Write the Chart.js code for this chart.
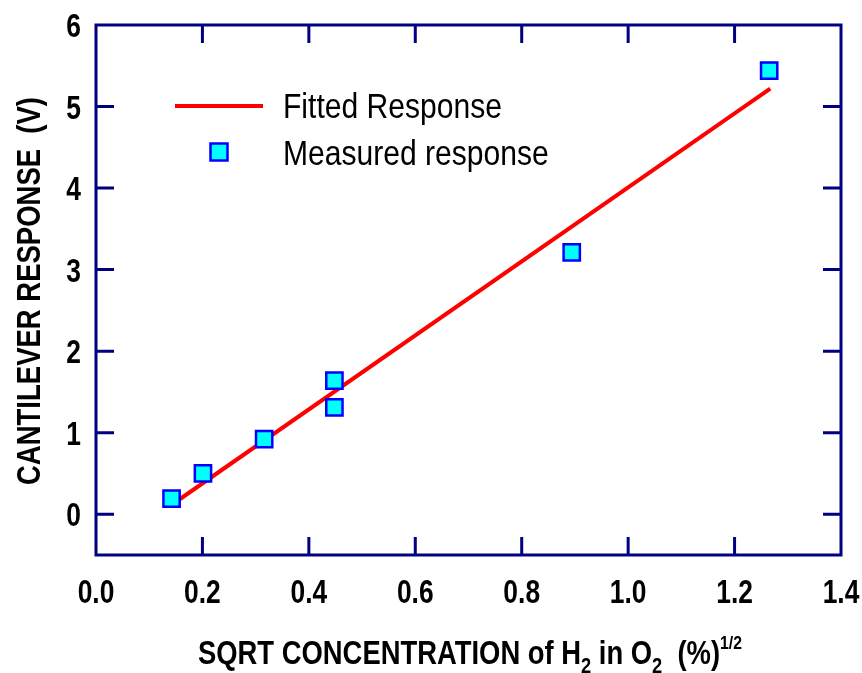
<!DOCTYPE html>
<html>
<head>
<meta charset="utf-8">
<script src="https://cdn.jsdelivr.net/npm/chart.js@4.4.1/dist/chart.umd.min.js"></script>
<style>
  html, body { margin: 0; padding: 0; background: #ffffff; }
  #wrap { width: 862px; height: 673px; }
</style>
</head>
<body>
<div id="wrap"><canvas id="c" width="862" height="673"></canvas></div>
<script>
// ---- data ----
const xTicks = [0.0, 0.2, 0.4, 0.6, 0.8, 1.0, 1.2, 1.4];
const yTicks = [0, 1, 2, 3, 4, 5, 6];
const measuredX = [0.142, 0.201, 0.316, 0.448, 0.448, 0.894, 1.265];
const measuredY = [0.19, 0.50, 0.92, 1.64, 1.31, 3.21, 5.44];
const fittedX = [0.141, 1.267];
const fittedY = [0.11, 5.22];
const seriesLabels = ['Measured response', 'Fitted Response'];
const yTitle = 'CANTILEVER RESPONSE  (V)';
const xTitleParts = [
  ['SQRT CONCENTRATION of H', 'n'],
  ['2', 'sub'],
  [' in O', 'n'],
  ['2', 'sub'],
  ['  (%)', 'n'],
  ['1/2', 'sup']
];

const NAVY = '#000080';
const FAM = '"Liberation Sans", Arial, sans-serif';

// draw horizontally condensed text
function condText(ctx, str, x, y, font, align, sx) {
  ctx.save();
  ctx.font = font;
  ctx.textAlign = align;
  ctx.textBaseline = 'alphabetic';
  ctx.translate(x, y);
  ctx.scale(sx, 1);
  ctx.fillText(str, 0, 0);
  ctx.restore();
}

const framePlugin = {
  id: 'frame',
  afterDraw(chart) {
    const ctx = chart.ctx;
    const a = chart.chartArea;
    const xs = chart.scales.x, ys = chart.scales.y;
    ctx.save();
    ctx.strokeStyle = NAVY;
    ctx.lineWidth = 3;
    ctx.lineCap = 'butt';
    // inward ticks
    const tl = 18;
    ctx.beginPath();
    xs.ticks.forEach(t => {
      const px = xs.getPixelForValue(t.value);
      if (Math.abs(px - a.left) < 2 || Math.abs(px - a.right) < 2) return;
      ctx.moveTo(px, a.bottom); ctx.lineTo(px, a.bottom - tl);
      ctx.moveTo(px, a.top); ctx.lineTo(px, a.top + tl);
    });
    ys.ticks.forEach(t => {
      const py = ys.getPixelForValue(t.value);
      if (Math.abs(py - a.top) < 2 || Math.abs(py - a.bottom) < 2) return;
      ctx.moveTo(a.left, py); ctx.lineTo(a.left + tl, py);
      ctx.moveTo(a.right, py); ctx.lineTo(a.right - tl, py);
    });
    ctx.stroke();
    ctx.lineJoin = 'miter';
    ctx.strokeRect(a.left, a.top, a.right - a.left, a.bottom - a.top);

    ctx.fillStyle = '#000';
    const tickFont = 'bold 33px ' + FAM;
    // x tick labels
    xs.ticks.forEach(t => {
      const px = xs.getPixelForValue(t.value);
      condText(ctx, Number(t.value).toFixed(1), px, 603, tickFont, 'center', 0.8);
    });
    // y tick labels
    ys.ticks.forEach(t => {
      const py = ys.getPixelForValue(t.value);
      condText(ctx, String(t.value), 81, py + 12, tickFont, 'right', 0.8);
    });

    // legend (from datasets)
    const dsM = chart.data.datasets[0];
    const dsF = chart.data.datasets[1];
    const legFont = '35px ' + FAM;
    ctx.font = legFont;
    const sxF = 219 / ctx.measureText(dsF.label).width;
    ctx.strokeStyle = dsF.borderColor;
    ctx.lineWidth = 4;
    ctx.beginPath(); ctx.moveTo(175, 106); ctx.lineTo(263, 106); ctx.stroke();
    condText(ctx, dsF.label, 283, 118, legFont, 'left', sxF);
    ctx.fillStyle = dsM.backgroundColor;
    ctx.strokeStyle = dsM.borderColor;
    ctx.lineWidth = 2.5;
    ctx.fillRect(210.5, 143.5, 17, 17);
    ctx.strokeRect(210.5, 143.5, 17, 17);
    ctx.fillStyle = '#000';
    condText(ctx, dsM.label, 283, 165, legFont, 'left', sxF);

    // y title
    const yFont = 'bold 34px ' + FAM;
    ctx.font = yFont;
    const sxY = 388 / ctx.measureText(yTitle).width;
    ctx.save();
    ctx.translate(40, 291);
    ctx.rotate(-Math.PI / 2);
    condText(ctx, yTitle, 0, 0, yFont, 'center', sxY);
    ctx.restore();

    // x title with sub/superscripts
    const fonts = { n: 'bold 33px ' + FAM, sub: 'bold 22px ' + FAM, sup: 'bold 19px ' + FAM };
    const dys = { n: 0, sub: 9, sup: -15 };
    let total = 0;
    xTitleParts.forEach(p => { ctx.font = fonts[p[1]]; total += ctx.measureText(p[0]).width; });
    const sxX = 544 / total;
    let x = 198;
    const base = 664;
    xTitleParts.forEach(p => {
      condText(ctx, p[0], x, base + dys[p[1]], fonts[p[1]], 'left', sxX);
      ctx.font = fonts[p[1]];
      x += ctx.measureText(p[0]).width * sxX;
    });
    ctx.restore();
  }
};

new Chart(document.getElementById('c'), {
  type: 'scatter',
  data: {
    datasets: [
      {
        label: seriesLabels[0],
        data: measuredX.map((x, i) => ({ x: x, y: measuredY[i] })),
        pointStyle: 'rect',
        pointRadius: 11.5,
        backgroundColor: '#00ffff',
        borderColor: '#0000ff',
        borderWidth: 2.5,
        showLine: false,
        order: 0
      },
      {
        label: seriesLabels[1],
        data: fittedX.map((x, i) => ({ x: x, y: fittedY[i] })),
        showLine: true,
        borderColor: '#ff0000',
        borderWidth: 4,
        pointRadius: 0,
        fill: false,
        order: 1
      }
    ]
  },
  options: {
    responsive: false,
    animation: false,
    layout: { padding: { top: 25, right: 21, left: 0, bottom: 0 } },
    plugins: { legend: { display: false }, tooltip: { enabled: false } },
    scales: {
      x: {
        type: 'linear', min: 0, max: 1.4,
        afterBuildTicks: s => { s.ticks = xTicks.map(v => ({ value: v })); },
        afterFit: s => { s.height = 118; s.paddingLeft = 0; s.paddingRight = 0; },
        grid: { display: false }, border: { display: false },
        ticks: { display: false }
      },
      y: {
        type: 'linear', min: -0.5, max: 6,
        afterBuildTicks: s => { s.ticks = yTicks.map(v => ({ value: v })); },
        afterFit: s => { s.width = 96; s.paddingTop = 0; s.paddingBottom = 0; },
        grid: { display: false }, border: { display: false },
        ticks: { display: false }
      }
    }
  },
  plugins: [framePlugin]
});
</script>
</body>
</html>
